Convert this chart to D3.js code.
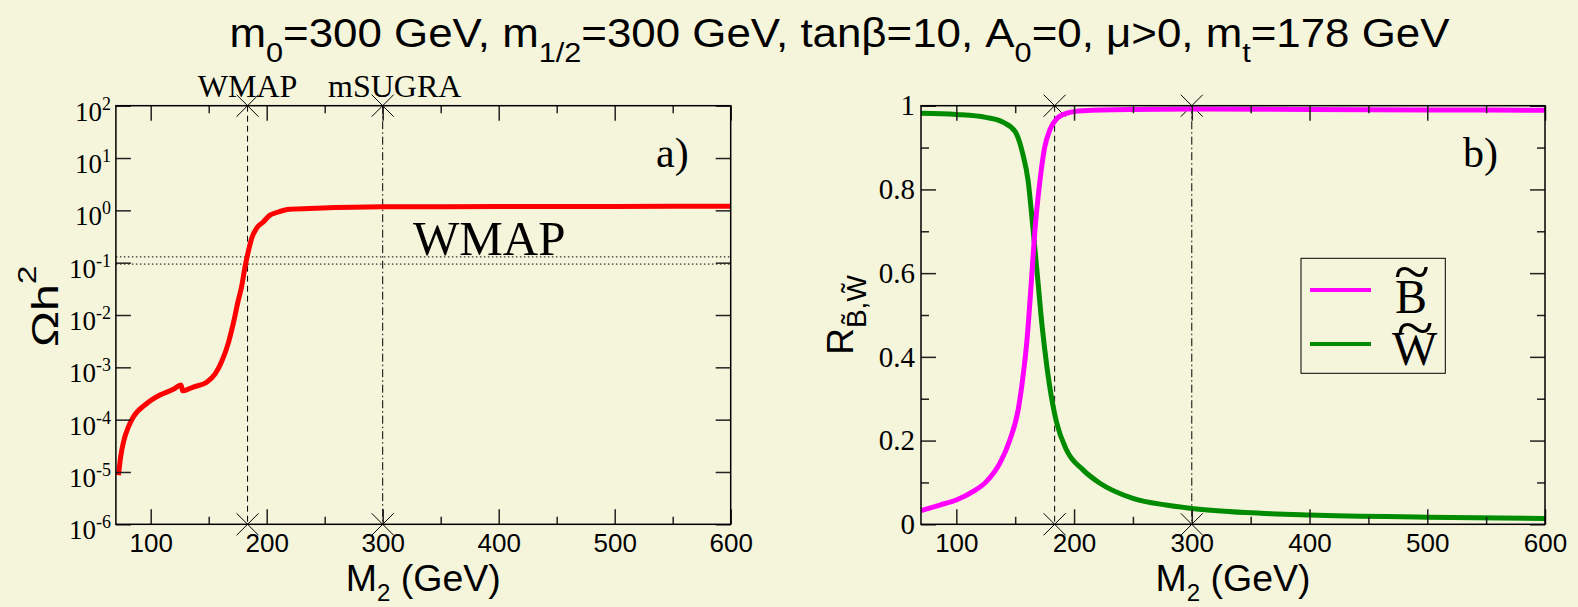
<!DOCTYPE html>
<html>
<head>
<meta charset="utf-8">
<script src="https://cdn.jsdelivr.net/npm/d3@7"></script>
<style>
  html, body { margin: 0; padding: 0; background: #f5f5dc; }
  svg { display: block; }
</style>
</head>
<body>
<svg id="chart" width="1578" height="607"></svg>
<script>
// ---- data ----
// relic density Omega h^2 versus M2 (GeV)
const omegaM2 = [72.2, 74.1, 77, 80.7, 85, 96.6, 108, 119.5, 126.1, 127.6, 136.7, 148.3, 155.4, 161.2,
                 166.9, 171.2, 175.5, 178.4, 181.3, 184.1, 187, 191.4, 197, 202.8, 208.6, 220, 243,
                 300, 400, 500, 600];
const omegaH2 = [8.7e-6, 1.95e-5, 4.1e-5, 7.2e-5, 1.12e-4, 2.04e-4, 2.95e-4, 3.8e-4, 4.6e-4, 3.55e-4,
                 4.2e-4, 5.2e-4, 7.4e-4, 1.29e-3, 2.9e-3, 6.9e-3, 0.019, 0.035, 0.083, 0.162, 0.29,
                 0.46, 0.60, 0.81, 0.91, 1.05, 1.10, 1.17, 1.18, 1.19, 1.20];

// bino fraction of the LSP
const binoM2 = [70, 86, 100, 114, 125.5, 137, 145.4, 152.5, 156.5, 160, 163.5, 166.7, 171, 175,
                179.4, 185, 193.5, 207.6, 250, 300, 400, 500, 600];
const binoR  = [0.0325, 0.046, 0.058, 0.078, 0.102, 0.146, 0.201, 0.273, 0.35, 0.44, 0.57, 0.70,
                0.82, 0.90, 0.942, 0.968, 0.982, 0.988, 0.991, 0.992, 0.991, 0.990, 0.989];

// wino fraction of the LSP
const winoM2 = [70, 100, 125, 140, 150, 156, 161, 165, 169, 173, 177, 182, 185, 193.5, 207.6,
                222, 250, 278, 300, 346, 400, 500, 600];
const winoR  = [0.982, 0.979, 0.972, 0.960, 0.938, 0.89, 0.82, 0.71, 0.59, 0.47, 0.375, 0.285,
                0.245, 0.178, 0.130, 0.098, 0.062, 0.046, 0.038, 0.028, 0.022, 0.017, 0.014];

const xDomain = [70, 600];
const xTicks = [100, 200, 300, 400, 500, 600];
const xMinorTicks = [150, 250, 350, 450, 550];
const logExponents = [2, 1, 0, -1, -2, -3, -4, -5, -6];
const rTicks = [0, 0.2, 0.4, 0.6, 0.8, 1];
const rTickLabels = ["0", "0.2", "0.4", "0.6", "0.8", "1"];
const rMinorTicks = [0.1, 0.3, 0.5, 0.7, 0.9];

const refPoints = [183.5, 300];          // WMAP-compatible M2 and the mSUGRA value
const refLabels = ["WMAP", "mSUGRA"];
const wmapBand = [0.094, 0.129];

const legendLabels = ["B", "W"];

// ---- layout ----
const SANS = "'Liberation Sans', Arial, Helvetica, sans-serif";
const SERIF = "'Liberation Serif', 'Times New Roman', Times, serif";
const W = 1578, H = 607;
const plotTop = 105.7, plotBottom = 524.3;
const panelA = { left: 115.9, right: 730.7 };
const panelB = { left: 921, right: 1545 };
const colors = { omega: "#ff0000", bino: "#ff00ff", wino: "#008b00" };

const svg = d3.select("#chart");
svg.append("rect").attr("width", W).attr("height", H).attr("fill", "#f5f5dc");

const xA = d3.scaleLinear().domain(xDomain).range([panelA.left, panelA.right]);
const yA = d3.scaleLog().domain([1e-6, 1e2]).range([plotBottom, plotTop]);
const xB = d3.scaleLinear().domain(xDomain).range([panelB.left, panelB.right]);
const yB = d3.scaleLinear().domain([0, 1]).range([plotBottom, plotTop]);

// ---- title (sub-scripted runs, stretched to span the figure) ----
const titleX = 229.5, titleW = 1220;
const title = svg.append("text")
  .attr("x", 0).attr("y", 0)
  .attr("font-family", SANS).attr("font-size", 40).attr("fill", "#000");
const titleRuns = [["m"], ["0", 1], ["=300 GeV, m", -1], ["1/2", 1], ["=300 GeV, tanβ=10, A", -1],
                   ["0", 1], ["=0, μ>0, m", -1], ["t", 1], ["=178 GeV", -1]];
titleRuns.forEach(([s, k]) => {
  const ts = title.append("tspan").text(s);
  if (k === 1) ts.attr("font-size", 28).attr("dy", 15);
  if (k === -1) ts.attr("dy", -15);
});
const tw = title.node().getComputedTextLength() || titleW;
title.attr("transform", `translate(${titleX},47) scale(${titleW / tw},1)`);

// ---- shared axis helpers ----
function styleAxis(g) {
  g.select(".domain").remove();
  g.selectAll(".tick line").attr("stroke", "#222").attr("stroke-width", 1.5);
}

function drawXAxes(x) {
  const gb = svg.append("g").attr("transform", `translate(0,${plotBottom})`)
    .call(d3.axisBottom(x).tickValues(xTicks).tickSizeInner(-15).tickSizeOuter(0).tickPadding(9)
      .tickFormat(d3.format("d")));
  styleAxis(gb);
  gb.selectAll(".tick text").attr("font-family", SANS).attr("font-size", 26).attr("fill", "#000");
  const gbm = svg.append("g").attr("transform", `translate(0,${plotBottom})`)
    .call(d3.axisBottom(x).tickValues(xMinorTicks).tickSizeInner(-7.5).tickSizeOuter(0).tickFormat(""));
  styleAxis(gbm);
  const gt = svg.append("g").attr("transform", `translate(0,${plotTop})`)
    .call(d3.axisTop(x).tickValues(xTicks).tickSizeInner(-15).tickSizeOuter(0).tickFormat(""));
  styleAxis(gt);
  const gtm = svg.append("g").attr("transform", `translate(0,${plotTop})`)
    .call(d3.axisTop(x).tickValues(xMinorTicks).tickSizeInner(-7.5).tickSizeOuter(0).tickFormat(""));
  styleAxis(gtm);
}

function drawFrame(p) {
  svg.append("rect")
    .attr("x", p.left).attr("y", plotTop)
    .attr("width", p.right - p.left).attr("height", plotBottom - plotTop)
    .attr("fill", "none").attr("stroke", "#000").attr("stroke-width", 1.5);
}

function drawXLabel(p) {
  const t = svg.append("text")
    .attr("x", (p.left + p.right) / 2).attr("y", 591)
    .attr("text-anchor", "middle")
    .attr("font-family", SANS).attr("font-size", 37.5).attr("fill", "#000");
  t.append("tspan").text("M");
  t.append("tspan").attr("font-size", 24).attr("dy", 10).text("2");
  t.append("tspan").attr("dy", -10).text(" (GeV)");
}

function crossAt(px, py) {
  svg.append("path")
    .attr("transform", `translate(${px},${py})`)
    .attr("d", "M-11,-11L11,11M-11,11L11,-11")
    .attr("stroke", "#000").attr("stroke-width", 1).attr("fill", "none");
}

function drawRefLines(x) {
  const dashes = ["6,4", "8,3,1.5,3"];
  refPoints.forEach((v, i) => {
    svg.append("line")
      .attr("x1", x(v)).attr("x2", x(v))
      .attr("y1", plotTop).attr("y2", plotBottom)
      .attr("stroke", "#000").attr("stroke-width", 1)
      .attr("stroke-dasharray", dashes[i]);
    crossAt(x(v), plotTop);
    crossAt(x(v), plotBottom);
  });
}

// ---- panel a): relic density ----
drawRefLines(xA);
wmapBand.forEach(v => {
  svg.append("line")
    .attr("x1", panelA.left).attr("x2", panelA.right)
    .attr("y1", yA(v)).attr("y2", yA(v))
    .attr("stroke", "#000").attr("stroke-width", 1)
    .attr("stroke-dasharray", "1.5,2.5");
});

const lineA = d3.line().x((d, i) => xA(omegaM2[i])).y(d => yA(d)).curve(d3.curveMonotoneX);
svg.append("path").datum(omegaH2)
  .attr("d", lineA).attr("fill", "none")
  .attr("stroke", colors.omega).attr("stroke-width", 5)
  .attr("stroke-linejoin", "round");

drawXAxes(xA);
const gyl = svg.append("g").attr("transform", `translate(${panelA.left},0)`)
  .call(d3.axisLeft(yA).tickValues(logExponents.map(e => Math.pow(10, e)))
    .tickSizeInner(-15).tickSizeOuter(0).tickFormat(""));
styleAxis(gyl);
const gyr = svg.append("g").attr("transform", `translate(${panelA.right},0)`)
  .call(d3.axisRight(yA).tickValues(logExponents.map(e => Math.pow(10, e)))
    .tickSizeInner(-15).tickSizeOuter(0).tickFormat(""));
styleAxis(gyr);
drawFrame(panelA);

logExponents.forEach(e => {
  const t = svg.append("text")
    .attr("x", panelA.left - 5).attr("y", yA(Math.pow(10, e)) + 15)
    .attr("text-anchor", "end")
    .attr("font-family", SERIF).attr("font-size", 27).attr("fill", "#000");
  t.append("tspan").text("10");
  t.append("tspan").attr("font-size", 18).attr("dy", -11).text(e < 0 ? "-" + (-e) : String(e));
});

// reference labels above the frame
svg.append("text").attr("x", xA(refPoints[0])).attr("y", 97)
  .attr("text-anchor", "middle").attr("font-family", SERIF).attr("font-size", 32)
  .text(refLabels[0]);
svg.append("text").attr("x", xA(refPoints[1]) + 12).attr("y", 97)
  .attr("text-anchor", "middle").attr("font-family", SERIF).attr("font-size", 32)
  .text(refLabels[1]);

svg.append("text").attr("x", 413).attr("y", 255)
  .attr("font-family", SERIF).attr("font-size", 49).text("WMAP");
svg.append("text").attr("x", 656).attr("y", 167)
  .attr("font-family", SERIF).attr("font-size", 42).text("a)");

// y label  Omega h^2
const yla = svg.append("text")
  .attr("transform", "translate(58,347) rotate(-90) scale(1.3,1)")
  .attr("font-family", SANS).attr("font-size", 37).attr("fill", "#000");
yla.append("tspan").text("Ωh");
yla.append("tspan").attr("font-size", 26).attr("dy", -22).text("2");

drawXLabel(panelA);

// ---- panel b): bino / wino fractions ----
drawRefLines(xB);

const lineB = d3.line().curve(d3.curveMonotoneX);
svg.append("path")
  .attr("d", lineB(winoR.map((v, i) => [xB(winoM2[i]), yB(v)])))
  .attr("fill", "none").attr("stroke", colors.wino).attr("stroke-width", 5);
svg.append("path")
  .attr("d", lineB(binoR.map((v, i) => [xB(binoM2[i]), yB(v)])))
  .attr("fill", "none").attr("stroke", colors.bino).attr("stroke-width", 5);

drawXAxes(xB);
const gbl = svg.append("g").attr("transform", `translate(${panelB.left},0)`)
  .call(d3.axisLeft(yB).tickValues(rTicks).tickSizeInner(-15).tickSizeOuter(0).tickPadding(6)
    .tickFormat((d, i) => rTickLabels[i]));
styleAxis(gbl);
gbl.selectAll(".tick text").attr("font-family", SERIF).attr("font-size", 29).attr("fill", "#000");
const gblm = svg.append("g").attr("transform", `translate(${panelB.left},0)`)
  .call(d3.axisLeft(yB).tickValues(rMinorTicks).tickSizeInner(-8).tickSizeOuter(0).tickFormat(""));
styleAxis(gblm);
const gbr = svg.append("g").attr("transform", `translate(${panelB.right},0)`)
  .call(d3.axisRight(yB).tickValues(rTicks).tickSizeInner(-15).tickSizeOuter(0).tickFormat(""));
styleAxis(gbr);
const gbrm = svg.append("g").attr("transform", `translate(${panelB.right},0)`)
  .call(d3.axisRight(yB).tickValues(rMinorTicks).tickSizeInner(-8).tickSizeOuter(0).tickFormat(""));
styleAxis(gbrm);
drawFrame(panelB);

svg.append("text").attr("x", 1463).attr("y", 167)
  .attr("font-family", SERIF).attr("font-size", 42).text("b)");

// y label  R_{B~,W~}
const ylb = svg.append("text")
  .attr("transform", `translate(853,${(plotTop + plotBottom) / 2}) rotate(-90)`)
  .attr("text-anchor", "middle")
  .attr("font-family", SANS).attr("font-size", 37).attr("fill", "#000");
ylb.append("tspan").text("R");
ylb.append("tspan").attr("font-size", 28).attr("dy", 13).text("B\u0303,W\u0303");

drawXLabel(panelB);

// legend
const legend = svg.append("g");
legend.append("rect")
  .attr("x", 1301).attr("y", 258.3).attr("width", 144.3).attr("height", 115)
  .attr("fill", "none").attr("stroke", "#000").attr("stroke-width", 1);

// wide tilde accents: measure the glyph's ink so it can be centred and sized exactly
const tildeFont = 60;
const ctx = document.createElement("canvas").getContext("2d");
ctx.font = `${tildeFont}px ${SERIF}`;
const tm = ctx.measureText("~");
const inkW = (tm.actualBoundingBoxLeft + tm.actualBoundingBoxRight) || 30;
const inkH = (tm.actualBoundingBoxAscent + tm.actualBoundingBoxDescent) || 8;
const inkCx = (tm.actualBoundingBoxRight - tm.actualBoundingBoxLeft) / 2;
const inkCy = (tm.actualBoundingBoxDescent - tm.actualBoundingBoxAscent) / 2;

const legendRows = [
  { color: colors.bino, label: legendLabels[0], lineY: 290, textX: 1395, textY: 313,
    tilde: { cx: 1411.5, cy: 272, w: 33, h: 10 } },
  { color: colors.wino, label: legendLabels[1], lineY: 344, textX: 1392, textY: 365,
    tilde: { cx: 1415, cy: 327.5, w: 34, h: 10 } }
];
legendRows.forEach(r => {
  legend.append("line")
    .attr("x1", 1310).attr("x2", 1371).attr("y1", r.lineY).attr("y2", r.lineY)
    .attr("stroke", r.color).attr("stroke-width", 4);
  legend.append("text").attr("x", r.textX).attr("y", r.textY)
    .attr("font-family", SERIF).attr("font-size", 48).text(r.label);
  const t = r.tilde;
  legend.append("text").attr("x", 0).attr("y", 0)
    .attr("transform", `translate(${t.cx},${t.cy}) scale(${t.w / inkW},${t.h / inkH}) translate(${-inkCx},${-inkCy})`)
    .attr("font-family", SERIF).attr("font-size", tildeFont).text("~");
});
</script>
</body>
</html>
